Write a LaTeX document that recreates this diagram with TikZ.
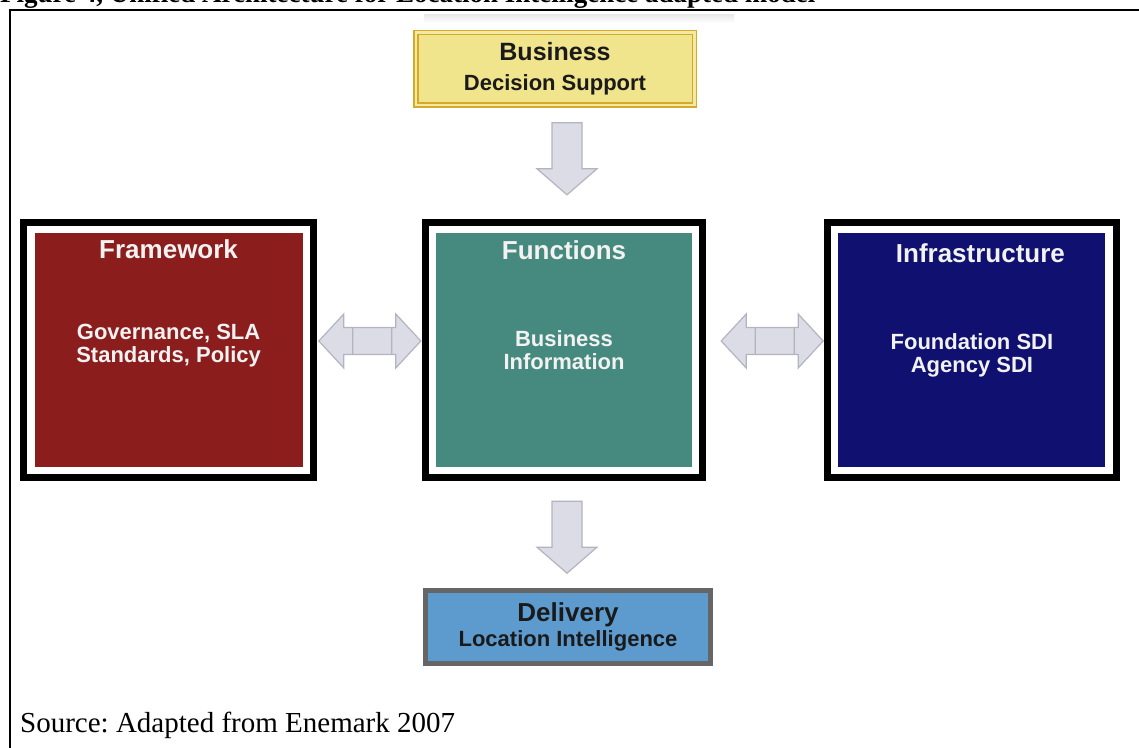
\documentclass[tikz,border=0pt]{standalone}
\usepackage{fontspec}
\setmainfont{Liberation Serif}
\newfontfamily\diagfont{Liberation Sans}
\usepackage{xcolor}
\definecolor{fwred}{HTML}{8B1D1D}
\definecolor{fnteal}{HTML}{46897E}
\definecolor{isnavy}{HTML}{101070}
\definecolor{bsfill}{HTML}{F0E48C}
\definecolor{bsgold}{HTML}{D6AA28}
\definecolor{bsgap}{HTML}{F3E9A6}
\definecolor{dlfill}{HTML}{5D9BCF}
\definecolor{dlgray}{HTML}{666666}
\definecolor{arrfill}{HTML}{DCDCE6}
\definecolor{arrline}{HTML}{B4B4C0}
\definecolor{paletext}{HTML}{F2F2F2}
\definecolor{darktext}{HTML}{1A1A1A}
\usepackage{tikz}
\usetikzlibrary{calc, fit, positioning}
\frenchspacing
\tikzset{
    panel/.style={
        rectangle, inner sep=0pt,
        minimum width=268pt,
        minimum height=234pt
    },
    frame/.style={
        draw=black, line width=7pt,
        inner sep=10.5pt
    },
    title/.style={
        inner sep=0pt, text=paletext,
        font=\diagfont\bfseries\fontsize{26pt}{26pt}\selectfont
    },
    body/.style={
        inner sep=0pt, align=center, text=paletext,
        font=\diagfont\bfseries\fontsize{22pt}{23pt}\selectfont
    },
    bizbox/.style={
        rectangle, draw=bsgold, double=bsgap,
        line width=1.5pt, double distance=2.5pt,
        fill=bsfill, outer sep=2.75pt, inner sep=0pt,
        minimum width=278.5pt, minimum height=72.5pt,
        align=center, text=darktext,
        font=\diagfont\bfseries\fontsize{22pt}{30pt}\selectfont
    },
    dlvbox/.style={
        rectangle, draw=dlgray, line width=5pt,
        fill=dlfill, inner sep=0pt,
        minimum width=285pt, minimum height=73pt,
        align=center, text=darktext,
        font=\diagfont\bfseries\fontsize{22pt}{25pt}\selectfont
    },
    arr/.style={
        draw=arrline, fill=arrfill,
        line width=1.2pt, line join=miter
    },
}

\begin{document}
\begin{tikzpicture}[x=1pt, y=1pt]
        \useasboundingbox (0,0) rectangle (1139,747);
        \clip (0,0) rectangle (1139,747);

        \node[anchor=base west, inner sep=0pt,
              font=\bfseries\fontsize{27pt}{27pt}\selectfont] (caption) at (0,744)
              {Figure 4, Unified Architecture for Location Intelligence adapted model};
        \draw[line width=2pt] (1140,737) -- (10.3,737) -- (10.3,-1);
        \shade[top color=black!8, bottom color=white] (424,732) rectangle (734,724);

        \node[panel, fill=fnteal, minimum width=256pt] (fn) at (564,397) {};
        \node[panel, fill=fwred, left=133pt of fn] (fw) {};
        \node[panel, fill=isnavy, minimum width=267pt, right=146pt of fn] (is) {};

        \foreach \p in {fw, fn, is}
            \node[frame, fit=(\p)] (\p frame) {};

        \node[title, below=7pt of fw.north] (fwtitle) {Framework};
        \node[title, below=8pt of fn.north] (fntitle) {Functions};
        \node[title, below=11pt of is.north, xshift=8.5pt] (istitle) {Infrastructure};

        \node[body, below=91pt of fw.north] (fwbody) {Governance, SLA\\Standards, Policy};
        \node[body, below=98pt of fn.north] (fnbody) {Business\\Information};
        \node[body, below=101pt of is.north] (isbody) {Foundation SDI\\Agency SDI};

        \node[bizbox, above=111pt of fnframe, xshift=-9pt] (bs)
            {{\fontsize{25pt}{30pt}\selectfont Business}\\Decision Support};
        \node[dlvbox, below=107pt of fnframe, xshift=4pt] (dl)
            {{\fontsize{26pt}{25pt}\selectfont Delivery}\\Location Intelligence};

        \foreach \a/\b in {fwframe/fnframe, fnframe/isframe}
            \draw[arr] let \p1=(\b.west), \p2=(\a.east) in
                (\x1-103pt,\y2+9pt) -- ++(25pt,27pt) -- ++(0,-13.5pt) -- ++(52pt,0)
                -- ++(0,13.5pt) -- ++(25pt,-27pt) -- ++(-25pt,-27pt) -- ++(0,13.5pt)
                -- ++(-52pt,0) -- ++(0,-13.5pt) -- cycle
                (\x1-69pt,\y2+22.5pt) -- ++(0,-27pt)
                (\x1-30pt,\y2+22.5pt) -- ++(0,-27pt);

        \foreach \a/\g in {bs/15pt, fnframe/20pt}
            \draw[arr] let \p1=(\a.south), \p2=(fn.center) in
                (\x2-12pt,\y1-\g) -- ++(30pt,0) -- ++(0,-46pt) -- ++(15pt,0)
                -- ++(-30pt,-26pt) -- ++(-30pt,26pt) -- ++(15pt,0) -- cycle;

        \node[anchor=base west, inner sep=0pt,
              font=\fontsize{29pt}{29pt}\selectfont] (source) at (20,15)
              {Source: Adapted from Enemark 2007};
\end{tikzpicture}
\end{document}
